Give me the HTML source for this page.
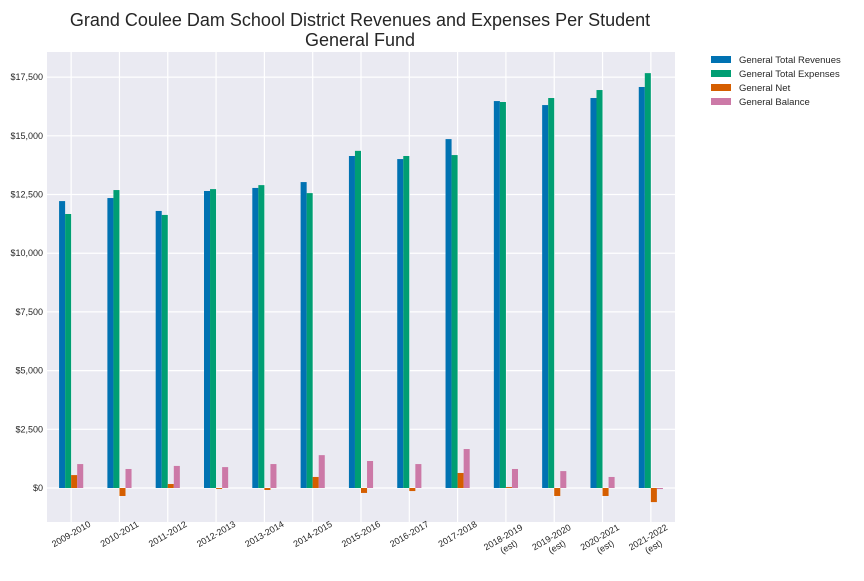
<!DOCTYPE html>
<html><head><meta charset="utf-8"><style>body{margin:0;background:#fff}svg{font-family:"Liberation Sans",sans-serif}</style></head>
<body>
<svg id="chart" width="864" height="576" xmlns="http://www.w3.org/2000/svg">
<text x="360" y="26" font-size="18" text-anchor="middle" fill="#262626">Grand Coulee Dam School District Revenues and Expenses Per Student</text>
<text x="360" y="46" font-size="18" text-anchor="middle" fill="#262626">General Fund</text>
<rect x="47" y="52" width="628" height="470" fill="#EAEAF2"/>
<g id="grid"></g><g id="bars"></g><g id="axes"></g><g id="legend"></g>
</svg>
<script>
const categories=["2009-2010","2010-2011","2011-2012","2012-2013","2013-2014","2014-2015","2015-2016","2016-2017","2017-2018","2018-2019\n(est)","2019-2020\n(est)","2020-2021\n(est)","2021-2022\n(est)"];
const revenues=[12220,12350,11800,12650,12780,13030,14140,14010,14860,16480,16310,16610,17080];
const expenses=[11670,12690,11630,12730,12900,12560,14360,14140,14180,16440,16610,16950,17670];
const net=[550,-340,170,-40,-85,470,-210,-130,640,40,-340,-340,-600];
const balance=[1020,810,940,890,1020,1400,1150,1020,1660,810,720,470,-45];
const yTicks=[0,2500,5000,7500,10000,12500,15000,17500];
const yTickLabels=["$0","$2,500","$5,000","$7,500","$10,000","$12,500","$15,000","$17,500"];
const seriesNames=["General Total Revenues","General Total Expenses","General Net","General Balance"];
const series=[revenues,expenses,net,balance];
const colors=["#0072B2","#009E73","#D55E00","#CC79A7"];
const NS="http://www.w3.org/2000/svg";
const L=47,R=675,T=52,B=522,yMin=-1448,yMax=18570;
const y=v=>B-(v-yMin)/(yMax-yMin)*(B-T);
const step=(R-L)/categories.length;
const xc=i=>L+step*(i+0.5);
const bw=step*0.125;
function mk(tag,attrs,parent){const e=document.createElementNS(NS,tag);for(const k in attrs)e.setAttribute(k,attrs[k]);parent.appendChild(e);return e;}
const grid=document.getElementById('grid'),bars=document.getElementById('bars'),axes=document.getElementById('axes'),leg=document.getElementById('legend');
yTicks.forEach((t,i)=>{
 const ln=mk('line',{x1:L,x2:R,y1:y(t),y2:y(t),stroke:'#fff','stroke-width':1.2},grid);
 
 
 const tx=mk('text',{x:L-4,y:y(t)+3,'font-size':9,'text-anchor':'end',fill:'#262626'},axes);
 tx.textContent=yTickLabels[i];
 
 
});
categories.forEach((c,i)=>{
 const ln=mk('line',{x1:xc(i),x2:xc(i),y1:T,y2:B,stroke:'#fff','stroke-width':1.2},grid);
 
 
 const parts=c.split('\n');
 const yc=parts.length>1?B+20:B+12;
 const g=mk('text',{transform:`translate(${xc(i)},${yc}) rotate(-30)`,'font-size':9,'text-anchor':'middle',fill:'#262626'},axes);
 
 
 const y0=3-(parts.length-1)*5.5;
 parts.forEach((p,j)=>{const ts=mk('tspan',{x:0,y:y0+j*11},g);ts.textContent=p;});
 series.forEach((s,k)=>{
  const v=s[i];const x0=xc(i)+(k-2)*bw;
  const r=mk('rect',{x:x0,y:Math.min(y(v),y(0)),width:bw,height:Math.abs(y(v)-y(0)),fill:colors[k]},bars);
  
  
 });
});
seriesNames.forEach((n,k)=>{
 const r=mk('rect',{x:711,y:56+k*14,width:20,height:7,fill:colors[k]},leg);
 
 
 const t=mk('text',{x:739,y:63+k*14,'font-size':9.5,fill:'#262626'},leg);
 t.textContent=n;
 
 
});
</script>
</body></html>
